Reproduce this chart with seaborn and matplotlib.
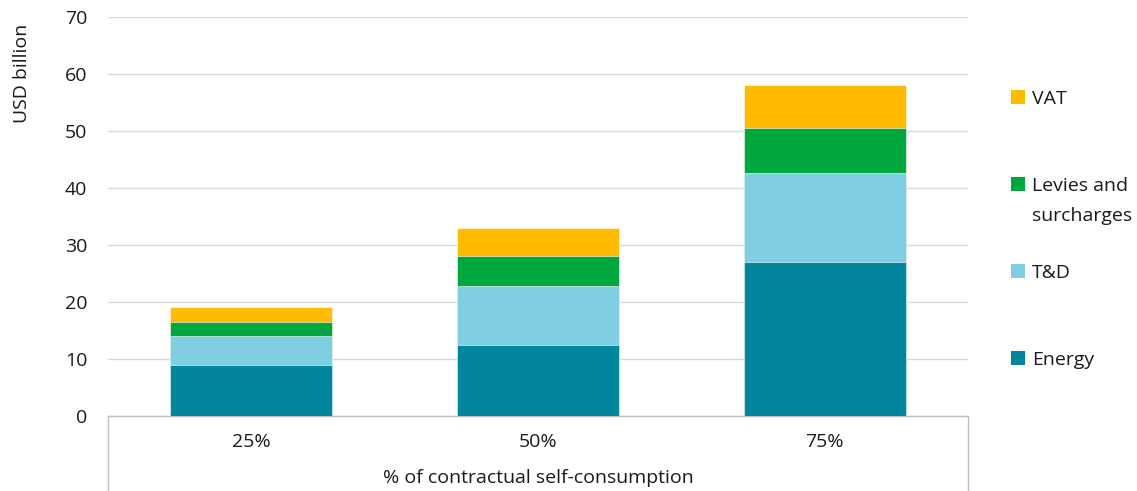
import matplotlib
matplotlib.use("Agg")
import matplotlib.pyplot as plt
import seaborn as sns
import pandas as pd
import numpy as np
from matplotlib.lines import Line2D
from matplotlib.patches import Patch

categories = ["25%", "50%", "75%"]
energy = [9.0, 12.5, 27.0]
td = [5.0, 10.3, 15.6]
levies = [2.5, 5.3, 7.9]
vat = [2.6, 4.9, 7.5]

series_names = ["Energy", "T&D", "Levies and surcharges", "VAT"]
series_vals = [energy, td, levies, vat]
colors = ["#02869D", "#80CEE1", "#00A73F", "#FFBB00"]

FS = 14

sns.set_theme(style="white")
plt.rcParams["font.family"] = ["Open Sans", "DejaVu Sans"]

fig = plt.figure(figsize=(11.37, 4.91), dpi=100)
ax = fig.add_axes([108/1137, 1-416/491, 860/1137, 399/491])

cum = np.cumsum(np.array(series_vals), axis=0)
for i in range(len(series_names) - 1, -1, -1):
    df = pd.DataFrame({"cat": categories, "val": cum[i]})
    sns.barplot(data=df, x="cat", y="val", color=colors[i], width=0.565,
                ax=ax, saturation=1, edgecolor="white", linewidth=0.4, zorder=3)

ax.set_ylim(0, 70)
ax.set_xlim(-0.5, 2.5)
ax.set_yticks(range(0, 71, 10))
ax.yaxis.grid(True, color="#D9D9D9", linewidth=1)
ax.set_axisbelow(True)
for s in ["left", "right", "top"]:
    ax.spines[s].set_visible(False)
ax.spines["bottom"].set_color("#BFBFBF")
ax.spines["bottom"].set_linewidth(1)
ax.tick_params(axis="both", length=0, labelsize=FS, colors="#1A1A1A")
ax.tick_params(axis="y", pad=15)
ax.tick_params(axis="x", pad=12)
ax.set_ylabel("")
ax.set_xlabel("% of contractual self-consumption", fontsize=FS, color="#1A1A1A", labelpad=13)

# box lines below axis
for xa in [0, 1]:
    ax.add_line(Line2D([xa, xa], [0, -80/399], transform=ax.transAxes,
                       color="#BFBFBF", linewidth=1, clip_on=False))

fig.text(22/1137, 1-73/491, "USD billion", rotation=90, ha="center", va="center",
         fontsize=FS, color="#1A1A1A")

# legend: two-line label wraps into the gap below it, as in the reference
order = [3, 2, 1, 0]
handles = [Patch(facecolor=colors[i], edgecolor="none") for i in order]
first_lines = []
for i in order:
    name = series_names[i]
    first_lines.append("Levies and" if name.startswith("Levies") else name)
leg = fig.legend(handles, first_lines, loc="upper left", bbox_to_anchor=(1003/1137, 1-82/491),
                 frameon=False, fontsize=FS, handlelength=0.75, handleheight=0.75,
                 handletextpad=0.35, labelspacing=3.55, borderaxespad=0)
for t in leg.get_texts():
    t.set_color("#1A1A1A")

fig.canvas.draw()
txt = leg.get_texts()[1]
bb = txt.get_window_extent()
fig.text(bb.x0 / fig.bbox.width, (bb.y0 - 30) / fig.bbox.height, "surcharges",
         ha="left", va="bottom", fontsize=FS, color="#1A1A1A")

fig.savefig("out.png", dpi=100)
